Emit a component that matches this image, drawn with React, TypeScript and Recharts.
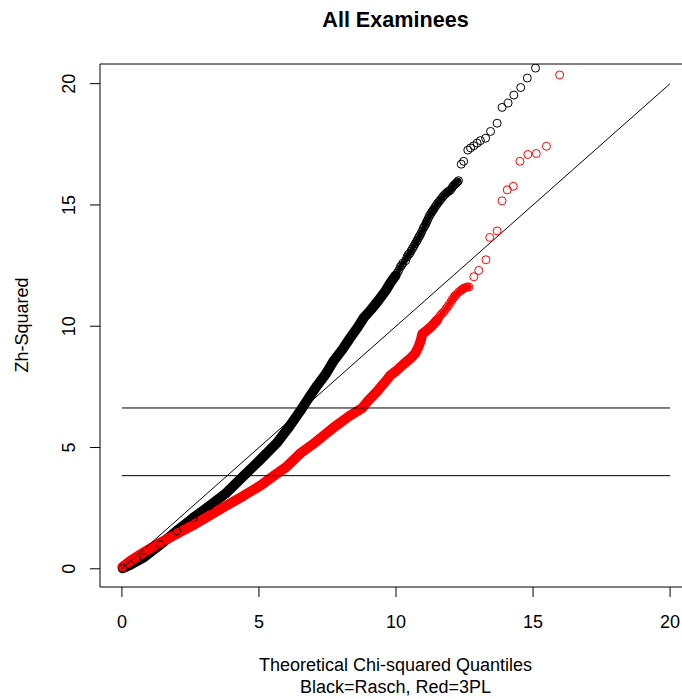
import React from "react";
import {
  ComposedChart,
  XAxis,
  YAxis,
  Scatter,
  Line,
  ReferenceLine,
  ReferenceArea,
} from "recharts";

// Rasch (black) Zh-squared vs theoretical chi-squared quantiles
const raschX = [
  0.03, 0.3, 0.8, 1.4, 2.0, 2.6, 3.2, 3.8, 4.45, 5.05, 5.66, 6.1, 6.5, 6.85, 7.12,
  7.45, 7.73, 8.05, 8.34, 8.6, 8.83, 9.1, 9.35, 9.62, 9.8, 9.98,
  10.05, 10.1, 10.16, 10.2, 10.25, 10.35, 10.4, 10.45, 10.5, 10.55, 10.6, 10.65,
  10.7, 10.75, 10.78, 10.82, 10.86, 10.9, 10.95, 11.0, 11.04, 11.08, 11.11, 11.14,
  11.18, 11.22, 11.26, 11.3, 11.34, 11.38, 11.43, 11.48, 11.53, 11.58, 11.63,
  11.69, 11.74, 11.8, 11.85, 11.9, 11.95, 11.99, 12.05, 12.1, 12.15, 12.2, 12.24,
  12.28,
  12.38, 12.47, 12.62, 12.72, 12.84, 12.96, 13.08, 13.27, 13.45, 13.69, 13.87,
  14.09, 14.3, 14.55, 14.79, 15.09,
];
const raschY = [
  0.02, 0.16, 0.47, 1.0, 1.56, 2.1, 2.6, 3.12, 3.84, 4.5, 5.2, 5.85, 6.5, 7.1, 7.55,
  8.05, 8.58, 9.05, 9.54, 9.95, 10.36, 10.7, 11.05, 11.46, 11.8, 12.08,
  12.2, 12.3, 12.45, 12.5, 12.6, 12.7, 12.85, 12.95, 13.0, 13.1, 13.2, 13.3,
  13.4, 13.5, 13.55, 13.65, 13.72, 13.8, 13.92, 14.05, 14.12, 14.2, 14.28, 14.35,
  14.45, 14.55, 14.62, 14.7, 14.76, 14.83, 14.92, 15.0, 15.08, 15.15, 15.22,
  15.31, 15.38, 15.45, 15.5, 15.55, 15.58, 15.62, 15.72, 15.8, 15.85, 15.9, 15.95,
  16.0,
  16.68, 16.8, 17.26, 17.35, 17.44, 17.55, 17.65, 17.75, 18.03, 18.37, 19.02,
  19.2, 19.53, 19.84, 20.23, 20.64,
];

// 3PL (red)
const threePlX = [
  0.02, 0.3, 0.8, 1.4, 2.0, 2.6, 3.2, 3.8, 4.45, 5.05, 5.55, 6.0, 6.5, 7.1, 7.73,
  8.3, 8.77, 9.0, 9.3, 9.6, 9.8, 10.0, 10.28, 10.55, 10.7, 10.82, 10.9, 10.96, 11.15,
  11.3, 11.5,
  11.56, 11.62, 11.68, 11.75, 11.81, 11.87, 11.93, 12.0, 12.05, 12.11, 12.15, 12.2,
  12.28, 12.35, 12.4, 12.45, 12.5, 12.56, 12.6, 12.66,
  12.84, 13.02, 13.28, 13.42, 13.69, 13.87, 14.06, 14.28, 14.52, 14.81, 15.12,
  15.49, 15.97,
];
const threePlY = [
  0.08, 0.32, 0.68, 1.08, 1.44, 1.8, 2.2, 2.6, 3.02, 3.43, 3.84, 4.2, 4.75, 5.25, 5.83,
  6.3, 6.63, 6.95, 7.3, 7.7, 7.98, 8.15, 8.44, 8.7, 8.88, 9.15, 9.4, 9.68, 9.85,
  10.0, 10.25,
  10.35, 10.45, 10.52, 10.6, 10.7, 10.78, 10.88, 11.0, 11.1, 11.19, 11.25, 11.3,
  11.4, 11.46, 11.5, 11.55, 11.58, 11.6, 11.62, 11.62,
  12.04, 12.3, 12.74, 13.66, 13.93, 15.17, 15.62, 15.77, 16.8, 17.08, 17.12,
  17.42, 20.36,
];

// leading points that overlap into a solid band, then a textured stretch
const raschBandCount = 26;
const raschTextureEnd = 74;
const threePlBandCount = 31;
const threePlTextureEnd = 51;

const xTicks = [0, 5, 10, 15, 20];
const yTicks = [0, 5, 10, 15, 20];
const critValues = [3.84, 6.63];

const xDomain: [number, number] = [-0.8, 20.8];
const yDomain: [number, number] = [-0.75, 20.81];

const FONT = "'Liberation Sans', Arial, sans-serif";

const zip = (xs: number[], ys: number[]) => xs.map((x, i) => ({ x, y: ys[i] }));

const rasch = zip(raschX, raschY);
const threePl = zip(threePlX, threePlY);

const ring = (color: string) => (p: any) =>
  <circle cx={p.cx} cy={p.cy} r={4} fill="none" stroke={color} strokeWidth={1} />;

function XTick({ x, y, payload }: any) {
  return (
    <text x={x} y={y + 23} textAnchor="middle" dominantBaseline="central"
      fontSize={18} fontFamily={FONT} fill="#000">
      {payload.value}
    </text>
  );
}

function YTick({ x, y, payload }: any) {
  const tx = x - 19;
  return (
    <text x={tx} y={y} transform={`rotate(-90, ${tx}, ${y})`} textAnchor="middle"
      dominantBaseline="central" fontSize={18} fontFamily={FONT} fill="#000">
      {payload.value}
    </text>
  );
}

export default function App() {
  return (
    <div style={{ position: "absolute", left: 0, top: 0, width: 682, height: 699, overflow: "hidden", background: "#fff" }}>
      <ComposedChart width={692} height={699} margin={{ top: 64, right: 0, bottom: 72, left: 0 }}>
        <XAxis type="number" dataKey="x" domain={xDomain} ticks={xTicks} allowDataOverflow
          axisLine={false} tickSize={10} tickLine={{ stroke: "#000" }} tick={<XTick />} height={40} />
        <YAxis type="number" dataKey="y" domain={yDomain} ticks={yTicks} allowDataOverflow
          axisLine={false} tickSize={10} tickLine={{ stroke: "#000" }} tick={<YTick />} width={100} />
        <ReferenceArea x1={xDomain[0]} x2={xDomain[1]} y1={yDomain[0]} y2={yDomain[1]}
          fill="none" stroke="#000" strokeWidth={1} fillOpacity={0} />

        <Line data={rasch.slice(0, raschBandCount)} dataKey="y" stroke="#000" strokeWidth={10}
          strokeLinecap="round" strokeLinejoin="round" dot={false} isAnimationActive={false} />
        <Line data={rasch.slice(raschBandCount - 1, raschTextureEnd)} dataKey="y" stroke="#000" strokeWidth={5}
          strokeLinecap="round" strokeLinejoin="round" dot={false} isAnimationActive={false} />
        <Scatter data={rasch} dataKey="y" shape={ring("#000")} isAnimationActive={false} />

        <Line data={threePl.slice(0, threePlBandCount)} dataKey="y" stroke="#ff0000" strokeWidth={10}
          strokeLinecap="round" strokeLinejoin="round" dot={false} isAnimationActive={false} />
        <Line data={threePl.slice(threePlBandCount - 1, threePlTextureEnd)} dataKey="y" stroke="#ff0000" strokeWidth={5}
          strokeLinecap="round" strokeLinejoin="round" dot={false} isAnimationActive={false} />
        <Scatter data={threePl} dataKey="y" shape={ring("#ff0000")} isAnimationActive={false} />

        <ReferenceLine segment={[{ x: 0, y: 0 }, { x: 20, y: 20 }]} stroke="#000" strokeWidth={1} />
        {critValues.map((c) => (
          <ReferenceLine key={c} segment={[{ x: 0, y: c }, { x: 20, y: c }]} stroke="#000" strokeWidth={1} />
        ))}
      </ComposedChart>

      <div style={{ position: "absolute", left: 0, width: 791, top: 8, textAlign: "center", font: `bold 21.6px ${FONT}`, lineHeight: "24px" }}>
        All Examinees
      </div>
      <div style={{ position: "absolute", left: 0, width: 791, top: 654, textAlign: "center", font: `18px ${FONT}`, lineHeight: "22px" }}>
        Theoretical Chi-squared Quantiles
        <br />
        Black=Rasch, Red=3PL
      </div>
      <div style={{ position: "absolute", left: 22, top: 325, width: 0, height: 0 }}>
        <div style={{ position: "absolute", left: -100, top: -11, width: 200, textAlign: "center", transform: "rotate(-90deg)", font: `18px ${FONT}`, lineHeight: "22px" }}>
          Zh-Squared
        </div>
      </div>
    </div>
  );
}
